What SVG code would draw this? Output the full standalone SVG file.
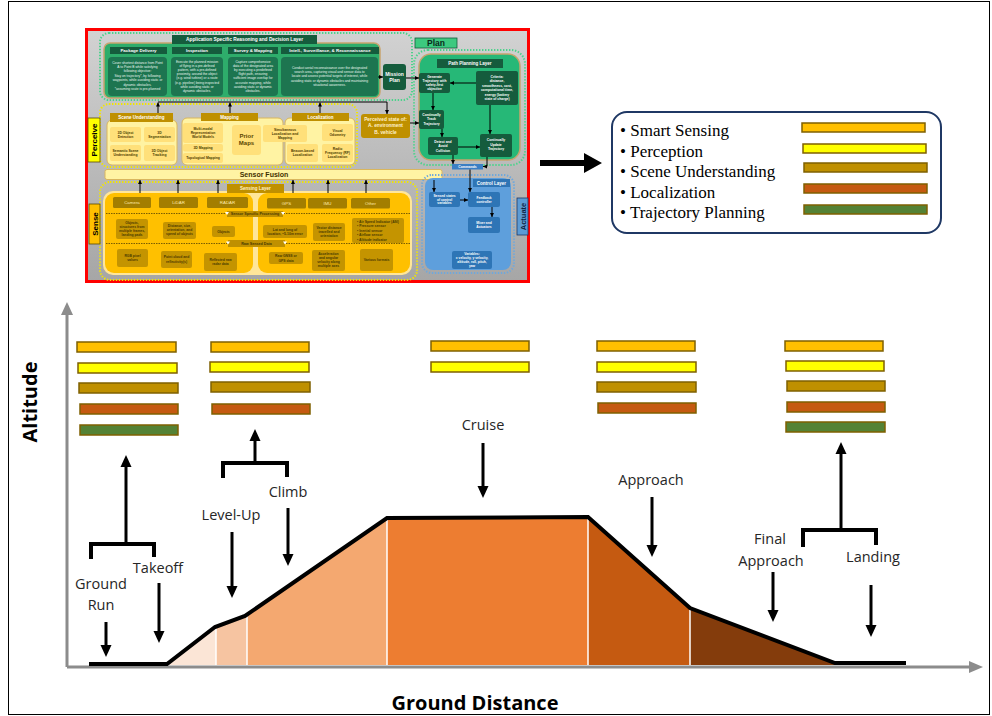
<svg xmlns="http://www.w3.org/2000/svg" width="992" height="716" viewBox="0 0 992 716">
<defs>
<linearGradient id="gbg" x1="0" y1="0" x2="0" y2="1"><stop offset="0" stop-color="#D2D2D2"/><stop offset="1" stop-color="#A6A6A6"/></linearGradient>
<marker id="sa" markerUnits="userSpaceOnUse" markerWidth="4" markerHeight="4" refX="4" refY="2" orient="auto"><path d="M0,0 L4,2 L0,4 z" fill="#000"/></marker>
<marker id="ba" markerUnits="userSpaceOnUse" markerWidth="12" markerHeight="12" refX="8" refY="6" orient="auto"><path d="M0,0.5 L12,6 L0,11.5 z" fill="#000"/></marker>
</defs>
<style>
.wb{fill:#fff;font-weight:bold;text-anchor:middle;font-family:"Liberation Sans",Arial,sans-serif}
.w{fill:#E8F5EE;text-anchor:middle;font-family:"Liberation Sans",Arial,sans-serif;font-size:3.3px}
.dk{fill:#4A3A00;text-anchor:middle;font-family:"Liberation Sans",Arial,sans-serif;font-size:3.4px;font-weight:bold}
.lt{fill:#FFEAA8;text-anchor:middle;font-family:"Liberation Sans",Arial,sans-serif;font-size:4.4px}
.gh{fill:#155C3D}
.gb{fill:#1D7550}
.yc{fill:#FFF3A3;stroke:#D9B65E;stroke-width:1}
.yi{fill:#FFE07A}
.yh{fill:#BF9000}
.sb{fill:#A37E00}
.sg{fill:#C49400}
.bb{fill:#2E75B6}
.dot{fill:none;stroke-width:2;stroke-dasharray:1.4 1.6}
.lab{font-family:"Open Sans","Liberation Sans",sans-serif;font-size:14.5px;fill:#262626;text-anchor:middle}
.ax{font-family:"Open Sans","Liberation Sans",sans-serif;font-size:20px;font-weight:bold;fill:#000;text-anchor:middle}
.bar{stroke:#7F6000;stroke-width:1.5}
.ss{fill:#FFC000}.pe{fill:#FFFF00}.su{fill:#BF9000}.lo{fill:#C55A11}.tp{fill:#548235}
.c{stroke:#000;stroke-width:1;fill:none}
.pa{stroke:#000;stroke-width:3;fill:none}
.br{stroke:#000;stroke-width:4;fill:none}
.lg{font-family:"Liberation Serif","Times New Roman",serif;font-size:17px;fill:#000}
.sep{stroke:#fff;stroke-width:1.5}
</style>
<rect x="0" y="0" width="992" height="716" fill="#fff"/>
<rect x="8.5" y="1.5" width="981" height="713" fill="none" stroke="#000" stroke-width="1"/>

<!-- architecture panel -->
<g id="architecture">
<rect x="86.5" y="29.5" width="442" height="252" fill="url(#gbg)" stroke="#FF0000" stroke-width="3"/>

<!-- application layer -->
<g id="app-layer">
<rect x="100" y="33" width="312" height="67" rx="9" class="dot" stroke="#4CD38C"/>
<rect x="104" y="43" width="276" height="55" rx="6" fill="#2EAD6B" stroke="#C8A46E" stroke-width="1.5"/>
<rect x="172" y="35" width="145" height="9" class="gh"/>
<text x="244.5" y="41.4" class="wb" font-size="4.8">Application Specific Reasoning and Decision Layer</text>
<rect x="110" y="47" width="57" height="7" class="gh"/><text x="138.5" y="52.2" class="wb" font-size="4.4">Package Delivery</text>
<rect x="172" y="47" width="50" height="7" class="gh"/><text x="197" y="52.2" class="wb" font-size="4.4">Inspection</text>
<rect x="228" y="47" width="50" height="7" class="gh"/><text x="253" y="52.2" class="wb" font-size="4.4">Survey &amp; Mapping</text>
<rect x="281" y="47" width="98" height="7" class="gh"/><text x="330" y="52.2" class="wb" font-size="4.4">Intell., Surveillance, &amp; Reconnaissance</text>
<rect x="108" y="57" width="59" height="39" rx="4" class="gb"/>
<text class="w"><tspan x="137.5" y="63.5">Cover shortest distance from Point</tspan><tspan x="137.5" y="67.9">A to Point B while satisfying</tspan><tspan x="137.5" y="72.3">following objective:</tspan><tspan x="137.5" y="76.7">Stay on trajectory*, by following</tspan><tspan x="137.5" y="81.1">waypoints, while avoiding static or</tspan><tspan x="137.5" y="85.5">dynamic obstacles.</tspan><tspan x="137.5" y="89.9">*assuming route is pre-planned</tspan></text>
<rect x="171" y="57" width="52" height="39" rx="4" class="gb"/>
<text class="w"><tspan x="197" y="62.5">Execute the planned mission</tspan><tspan x="197" y="66.7">of flying in a pre-defined</tspan><tspan x="197" y="70.9">pattern, with a pre-defined</tspan><tspan x="197" y="75.1">proximity, around the object</tspan><tspan x="197" y="79.3">(e.g. wind turbine) or a route</tspan><tspan x="197" y="83.5">(e.g. pipeline) being inspected</tspan><tspan x="197" y="87.7">while avoiding static or</tspan><tspan x="197" y="91.9">dynamic obstacles.</tspan></text>
<rect x="228" y="57" width="50" height="39" rx="4" class="gb"/>
<text class="w"><tspan x="253" y="62.5">Capture comprehensive</tspan><tspan x="253" y="66.7">data of the designated area</tspan><tspan x="253" y="70.9">by executing a predefined</tspan><tspan x="253" y="75.1">flight path, ensuring</tspan><tspan x="253" y="79.3">sufficient image overlap for</tspan><tspan x="253" y="83.5">accurate mapping, while</tspan><tspan x="253" y="87.7">avoiding static or dynamic</tspan><tspan x="253" y="91.9">obstacles.</tspan></text>
<rect x="281" y="57" width="97" height="39" rx="4" class="gb"/>
<text class="w"><tspan x="329.5" y="68.5">Conduct aerial reconnaissance over the designated</tspan><tspan x="329.5" y="72.9">search area, capturing visual and sensor data to</tspan><tspan x="329.5" y="77.3">locate and assess potential targets of interest, while</tspan><tspan x="329.5" y="81.7">avoiding static or dynamic obstacles and maintaining</tspan><tspan x="329.5" y="86.1">situational awareness.</tspan></text>
</g>

<g id="mission-plan">
<rect x="383" y="64" width="23" height="26" rx="3" class="gh"/>
<text class="wb" font-size="5"><tspan x="394.5" y="75.5">Mission</tspan><tspan x="394.5" y="82">Plan</tspan></text>
</g>

<!-- plan -->
<g id="plan">
<rect x="414" y="50" width="111" height="115" rx="14" class="dot" stroke="#4CD38C"/>
<rect x="419" y="54" width="101" height="106" rx="12" fill="#26B877" stroke="#C8A46E" stroke-width="1.5"/>
<rect x="415" y="38" width="42" height="10" fill="#3CC97F" stroke="#155C3D" stroke-width="0.8"/>
<text x="436" y="46.3" font-family="Liberation Sans,Arial,sans-serif" font-size="8.5" font-weight="bold" text-anchor="middle" fill="#0B2A1B">Plan</text>
<rect x="437" y="59" width="66" height="9" class="gh"/>
<text x="470" y="65.4" class="wb" font-size="4.5">Path Planning Layer</text>
<rect x="419" y="73" width="31" height="20" rx="2" class="gh"/>
<text class="wb" font-size="3.4"><tspan x="434.5" y="78">Generate</tspan><tspan x="434.5" y="82">Trajectory with</tspan><tspan x="434.5" y="86">safety-first</tspan><tspan x="434.5" y="90">objective</tspan></text>
<rect x="476" y="71" width="42" height="34" rx="2" class="gh"/>
<text class="wb" font-size="3.4"><tspan x="497" y="77.5">Criteria:</tspan><tspan x="497" y="82">distance,</tspan><tspan x="497" y="86.5">smoothness, cost,</tspan><tspan x="497" y="91">computational time,</tspan><tspan x="497" y="95.5">energy (battery</tspan><tspan x="497" y="100">state of charge)</tspan></text>
<rect x="419" y="110" width="25" height="19" rx="2" class="gh"/>
<text class="wb" font-size="3.4"><tspan x="431.5" y="115.5">Continually</tspan><tspan x="431.5" y="120">Track</tspan><tspan x="431.5" y="124.5">Trajectory</tspan></text>
<rect x="428" y="137" width="30" height="18" rx="2" class="gh"/>
<text class="wb" font-size="3.4"><tspan x="443" y="142.5">Detect and</tspan><tspan x="443" y="147">Avoid</tspan><tspan x="443" y="151.5">Collision</tspan></text>
<rect x="480" y="134" width="32" height="23" rx="2" class="gh"/>
<text class="wb" font-size="3.4"><tspan x="496" y="141">Continually</tspan><tspan x="496" y="145.5">Update</tspan><tspan x="496" y="150">Trajectory</tspan></text>
<rect x="452" y="164" width="31" height="5.5" fill="#3A7FC4"/>
<text x="467.5" y="168.1" class="wb" font-size="3.4">Commands</text>
</g>

<!-- perceive -->
<g id="perceive">
<rect x="100" y="104" width="257" height="63" rx="9" class="dot" stroke="#F2E600"/>
<rect x="88" y="118" width="12" height="44" fill="#FFFF00" stroke="#5A4A00" stroke-width="0.8"/>
<text transform="translate(96.8,140) rotate(-90)" font-family="Liberation Sans,Arial,sans-serif" font-size="8" font-weight="bold" text-anchor="middle" fill="#000">Perceive</text>
<rect x="107" y="120" width="70" height="45" rx="5" class="yc"/>
<rect x="110" y="113" width="63" height="9" class="yh"/>
<text x="141.5" y="119.4" class="wb" font-size="4.5">Scene Understanding</text>
<rect x="110" y="127" width="31" height="15" rx="2" class="yi"/><text class="dk"><tspan x="125.5" y="133.5">3D Object</tspan><tspan x="125.5" y="137.5">Detection</tspan></text>
<rect x="144" y="127" width="31" height="15" rx="2" class="yi"/><text class="dk"><tspan x="159.5" y="133.5">3D</tspan><tspan x="159.5" y="137.5">Segmentation</tspan></text>
<rect x="110" y="145" width="31" height="16" rx="2" class="yi"/><text class="dk"><tspan x="125.5" y="152">Semantic Scene</tspan><tspan x="125.5" y="156">Understanding</tspan></text>
<rect x="144" y="145" width="31" height="16" rx="2" class="yi"/><text class="dk"><tspan x="159.5" y="152">3D  Object</tspan><tspan x="159.5" y="156">Tracking</tspan></text>

<rect x="182" y="118" width="101" height="47" rx="5" class="yc"/>
<rect x="201" y="113" width="57" height="8" class="yh"/>
<text x="229.5" y="118.9" class="wb" font-size="4.5">Mapping</text>
<rect x="183" y="123" width="40" height="20" rx="2" class="yi"/><text class="dk"><tspan x="203" y="129.5">Multi-modal</tspan><tspan x="203" y="133.5">Representation</tspan><tspan x="203" y="137.5">World Models</tspan></text>
<rect x="183" y="144" width="40" height="7.5" rx="2" class="yi"/><text x="203" y="149" class="dk">3D Mapping</text>
<rect x="183" y="153" width="40" height="10" rx="2" class="yi"/><text x="203" y="159.3" class="dk">Topological Mapping</text>
<rect x="232" y="125" width="29" height="30" rx="3" class="yi"/>
<text font-family="Liberation Sans,Arial,sans-serif" font-size="6" font-weight="bold" text-anchor="middle" fill="#5A4500"><tspan x="246.5" y="138">Prior</tspan><tspan x="246.5" y="145">Maps</tspan></text>

<rect x="285" y="118" width="70" height="47" rx="5" class="yc"/>
<rect x="292" y="113" width="57" height="8" class="yh"/>
<text x="320.5" y="118.9" class="wb" font-size="4.5">Localization</text>
<rect x="263" y="125" width="44" height="17" rx="2" class="yi"/><text class="dk"><tspan x="285" y="130.5">Simultaneous</tspan><tspan x="285" y="134.5">Localization and</tspan><tspan x="285" y="138.5">Mapping</tspan></text>
<rect x="322" y="124" width="31" height="17" rx="2" class="yi"/><text class="dk"><tspan x="337.5" y="131.5">Visual</tspan><tspan x="337.5" y="135.5">Odometry</tspan></text>
<rect x="287" y="144" width="31" height="18" rx="2" class="yi"/><text class="dk"><tspan x="302.5" y="152">Beacon-based</tspan><tspan x="302.5" y="156">Localization</tspan></text>
<rect x="322" y="144" width="31" height="18" rx="2" class="yi"/><text class="dk"><tspan x="337.5" y="149.5">Radio</tspan><tspan x="337.5" y="153.5">Frequency (RF)</tspan><tspan x="337.5" y="157.5">Localization</tspan></text>

<rect x="361" y="114" width="49" height="24" rx="3" fill="#BF9000"/>
<text font-family="Liberation Sans,Arial,sans-serif" font-size="4.8" font-weight="bold" text-anchor="middle" fill="#FFF2CC"><tspan x="385.5" y="121">Perceived state of:</tspan><tspan x="385.5" y="127.3">A. environment</tspan><tspan x="385.5" y="133.6">B. vehicle</tspan></text>
</g>

<!-- sensor fusion -->
<g id="sensor-fusion">
<rect x="105" y="169.5" width="337" height="10" rx="2" fill="#FFF3A3" stroke="#D9B65E" stroke-width="1"/>
<text x="264" y="177.3" font-family="Liberation Sans,Arial,sans-serif" font-size="7" font-weight="bold" text-anchor="middle" fill="#3F3000">Sensor Fusion</text>
</g>

<!-- sense -->
<g id="sense">
<rect x="100" y="182" width="317" height="98" rx="10" class="dot" stroke="#F2E600"/>
<rect x="103" y="191" width="309" height="84" rx="10" fill="#FFE699"/>
<rect x="105" y="193" width="148" height="80" rx="9" fill="#FFC000"/>
<rect x="258" y="193" width="152" height="80" rx="9" fill="#FFC000"/>
<rect x="89" y="204" width="11" height="40" fill="#FFC000" stroke="#5A4A00" stroke-width="0.8"/>
<text transform="translate(97.6,224) rotate(-90)" font-family="Liberation Sans,Arial,sans-serif" font-size="8" font-weight="bold" text-anchor="middle" fill="#000">Sense</text>
<rect x="227" y="184" width="57" height="9" class="yh"/>
<text x="255.5" y="190.3" class="wb" font-size="4.5" style="fill:#FFF2CC">Sensing Layer</text>
<rect x="113" y="197" width="38" height="11" rx="1.5" class="sb"/><text x="132" y="204" class="lt">Camera</text>
<rect x="159" y="197" width="39" height="11" rx="1.5" class="sb"/><text x="178.5" y="204" class="lt">LiDAR</text>
<rect x="207" y="197" width="41" height="11" rx="1.5" class="sb"/><text x="227.5" y="204" class="lt">RADAR</text>
<rect x="267" y="198" width="39" height="10.5" rx="1.5" class="sb"/><text x="286.5" y="204.7" class="lt">GPS</text>
<rect x="308" y="198" width="39" height="10.5" rx="1.5" class="sb"/><text x="327.5" y="204.7" class="lt">IMU</text>
<rect x="351" y="198" width="39" height="10.5" rx="1.5" class="sb"/><text x="370.5" y="204.7" class="lt">Other</text>

<line x1="106" y1="213.5" x2="410" y2="213.5" stroke="#3F3000" stroke-width="0.7" stroke-dasharray="1.5 1"/>
<rect x="227" y="211" width="56" height="6" class="yh"/>
<text x="255" y="215.4" class="dk" style="font-size:3.7px">Sensor Specific Processing</text>
<path d="M225,212 L229,212 L227,215 z M281,212 L285,212 L283,215 z" fill="#fff"/>
<rect x="116" y="219" width="32" height="20" rx="2" class="sg"/><text class="dk"><tspan x="132" y="224">Objects,</tspan><tspan x="132" y="228">structures from</tspan><tspan x="132" y="232">multiple frames,</tspan><tspan x="132" y="236">landing pads</tspan></text>
<rect x="163" y="222" width="33" height="17" rx="2" class="sg"/><text class="dk"><tspan x="179.5" y="227">Distance, size,</tspan><tspan x="179.5" y="231">orientation, and</tspan><tspan x="179.5" y="235">speed of objects</tspan></text>
<rect x="212" y="226" width="23" height="11" rx="2" class="sg"/><text x="223.5" y="232.7" class="dk">Objects</text>
<rect x="263" y="225" width="44" height="13" rx="2" class="sg"/><text class="dk"><tspan x="285" y="230.5">Lat and long of</tspan><tspan x="285" y="234.8">location, ~5-10m error</tspan></text>
<rect x="313" y="223" width="32" height="18" rx="2" class="sg"/><text class="dk"><tspan x="329" y="228.5">Vector distance</tspan><tspan x="329" y="232.8">travelled and</tspan><tspan x="329" y="237.1">orientation</tspan></text>
<rect x="352" y="218" width="52" height="25" rx="2" class="sg"/>
<text font-family="Liberation Sans,Arial,sans-serif" font-size="3.4" font-weight="bold" fill="#4A3A00"><tspan x="357" y="223">•  Air Speed Indicator (ASI)</tspan><tspan x="357" y="227.4">•  Pressure sensor</tspan><tspan x="357" y="231.8">•  Inertial sensor</tspan><tspan x="357" y="236.2">•  Airflow sensor</tspan><tspan x="357" y="240.6">•  Altitude indicator</tspan></text>

<line x1="106" y1="243.5" x2="410" y2="243.5" stroke="#3F3000" stroke-width="0.7" stroke-dasharray="1.5 1"/>
<rect x="228" y="240" width="57" height="7" class="yh"/>
<text x="256.5" y="244.9" class="dk" style="font-size:3.7px">Raw Sensed Data</text>
<path d="M226,241.5 L230,241.5 L228,244.5 z M283,241.5 L287,241.5 L285,244.5 z" fill="#fff"/>
<rect x="117" y="249" width="31" height="18" rx="2" class="sg"/><text class="dk"><tspan x="132.5" y="257">RGB pixel</tspan><tspan x="132.5" y="261.3">values</tspan></text>
<rect x="161" y="251" width="31" height="17" rx="2" class="sg"/><text class="dk"><tspan x="176.5" y="258.3">Point cloud and</tspan><tspan x="176.5" y="262.6">reflectivity(s)</tspan></text>
<rect x="204" y="253" width="33" height="18" rx="2" class="sg"/><text class="dk"><tspan x="220.5" y="260.8">Reflected raw</tspan><tspan x="220.5" y="265.1">radar data</tspan></text>
<rect x="269" y="252" width="34" height="12" rx="2" class="sg"/><text class="dk"><tspan x="286" y="257.2">Raw GNSS or</tspan><tspan x="286" y="261.5">GPS data</tspan></text>
<rect x="312" y="250" width="33" height="21" rx="2" class="sg"/><text class="dk"><tspan x="328.5" y="255.3">Acceleration</tspan><tspan x="328.5" y="259.3">and angular</tspan><tspan x="328.5" y="263.3">velocity along</tspan><tspan x="328.5" y="267.3">multiple axes</tspan></text>
<rect x="360" y="249" width="33" height="22" rx="2" class="sg"/><text x="376.5" y="261.2" class="dk">Various formats</text>
</g>

<!-- actuate -->
<g id="actuate">
<rect x="422" y="175" width="92" height="98" rx="10" class="dot" stroke="#6FA8DC"/>
<rect x="425" y="178" width="86" height="92" rx="8" fill="#5E9FDC"/>
<rect x="473" y="179" width="37" height="8" fill="#2F75B5"/>
<text x="491.5" y="184.6" class="wb" font-size="4.5">Control Layer</text>
<rect x="429" y="192" width="31" height="15" rx="2" class="bb"/><text class="wb" font-size="3.3"><tspan x="444.5" y="196.8">Sensed states</tspan><tspan x="444.5" y="200.6">of control</tspan><tspan x="444.5" y="204.4">variables</tspan></text>
<rect x="468" y="192" width="32" height="15" rx="2" class="bb"/><text class="wb" font-size="3.3"><tspan x="484" y="198.7">Feedback</tspan><tspan x="484" y="202.5">controller</tspan></text>
<rect x="468" y="217" width="32" height="16" rx="2" class="bb"/><text class="wb" font-size="3.3"><tspan x="484" y="224">Mixer and</tspan><tspan x="484" y="227.8">Actuators</tspan></text>
<rect x="452" y="251" width="40" height="18" rx="2" class="bb"/><text class="wb" font-size="3.3"><tspan x="472" y="255.3">Variables:</tspan><tspan x="472" y="259.1">x velocity, y velocity,</tspan><tspan x="472" y="262.9">altitude, roll, pitch,</tspan><tspan x="472" y="266.7">yaw</tspan></text>
<rect x="517" y="198" width="11" height="37" fill="#5B9BD5" stroke="#1F3864" stroke-width="0.8"/>
<text transform="translate(525.5,216.5) rotate(-90)" font-family="Liberation Sans,Arial,sans-serif" font-size="7.5" font-weight="bold" text-anchor="middle" fill="#0D2340">Actuate</text>
</g>

<!-- connectors of the architecture -->
<g id="arch-connectors">
<line x1="378" y1="77" x2="383" y2="77" class="c" marker-end="url(#sa)"/>
<line x1="406" y1="78" x2="419" y2="78" class="c" marker-end="url(#sa)"/>
<line x1="476" y1="83" x2="450" y2="83" class="c" marker-end="url(#sa)"/>
<line x1="433" y1="93" x2="433" y2="110" class="c" marker-end="url(#sa)"/>
<line x1="442" y1="129" x2="442" y2="137" class="c" marker-end="url(#sa)"/>
<line x1="490" y1="105" x2="490" y2="134" class="c" marker-end="url(#sa)"/>
<line x1="458" y1="147" x2="480" y2="147" class="c" marker-end="url(#sa)"/>
<line x1="410" y1="123" x2="419" y2="123" class="c" marker-end="url(#sa)"/>
<line x1="453" y1="155" x2="453" y2="164" class="c" marker-end="url(#sa)"/>
<polyline points="487,157 487,166.5 483,166.5" class="c" marker-end="url(#sa)"/>
<line x1="470" y1="169.5" x2="470" y2="192" class="c" marker-end="url(#sa)"/>
<line x1="434" y1="180" x2="434" y2="192" class="c" marker-end="url(#sa)"/>
<line x1="460" y1="200" x2="468" y2="200" class="c" marker-end="url(#sa)"/>
<line x1="492" y1="207" x2="492" y2="217" class="c" marker-end="url(#sa)"/>
<polyline points="158,102 387,102" class="c"/>
<line x1="158" y1="113" x2="158" y2="102.5" class="c" marker-end="url(#sa)"/>
<line x1="230" y1="113" x2="230" y2="102.5" class="c" marker-end="url(#sa)"/>
<line x1="320" y1="113" x2="320" y2="102.5" class="c" marker-end="url(#sa)"/>
<line x1="387" y1="102" x2="387" y2="114" class="c" marker-end="url(#sa)"/>
<line x1="140" y1="193" x2="140" y2="180" class="c" marker-end="url(#sa)"/>
<line x1="178" y1="193" x2="178" y2="180" class="c" marker-end="url(#sa)"/>
<line x1="218" y1="193" x2="218" y2="180" class="c" marker-end="url(#sa)"/>
<line x1="293" y1="193" x2="293" y2="180" class="c" marker-end="url(#sa)"/>
<line x1="328" y1="193" x2="328" y2="180" class="c" marker-end="url(#sa)"/>
<line x1="366" y1="193" x2="366" y2="180" class="c" marker-end="url(#sa)"/>
</g>
</g>

<!-- big arrow to legend -->
<polygon id="legend-arrow" points="540,160 584,160 584,153 602,163 584,173 584,166 540,166" fill="#000"/>

<!-- legend -->
<g id="legend">
<rect x="612" y="112" width="329" height="121" rx="15" fill="#fff" stroke="#1F3864" stroke-width="2"/>
<text class="lg"><tspan x="620" y="136">•  Smart Sensing</tspan><tspan x="620" y="156.5">•  Perception</tspan><tspan x="620" y="177">•  Scene Understanding</tspan><tspan x="620" y="197.5">•  Localization</tspan><tspan x="620" y="218">•  Trajectory Planning</tspan></text>
<rect x="802" y="123" width="123" height="9" class="bar ss"/>
<rect x="803" y="144" width="123" height="9" class="bar pe"/>
<rect x="804" y="163" width="123" height="9" class="bar su"/>
<rect x="804" y="184" width="123" height="9" class="bar lo"/>
<rect x="804" y="205" width="123" height="9" class="bar tp"/>
</g>

<!-- profile chart -->
<g id="profile">
<polygon points="167,664 216,626.3 216,665 167,665" fill="#FBE5D6"/>
<polygon points="216,626.3 245,616 247,614.6 247,665 216,665" fill="#F6C4A1"/>
<polygon points="247,614.6 387,518 387,665 247,665" fill="#F4A870"/>
<polygon points="387,518 588,517 588,665 387,665" fill="#ED7D31"/>
<polygon points="588,517 690,608 690,665 588,665" fill="#C55A11"/>
<polygon points="690,608 835,663 835,665 690,665" fill="#843C0C"/>
<line x1="216" y1="627" x2="216" y2="665" class="sep"/>
<line x1="247" y1="615" x2="247" y2="665" class="sep"/>
<line x1="387" y1="519" x2="387" y2="665" class="sep"/>
<line x1="588" y1="518" x2="588" y2="665" class="sep"/>
<line x1="690" y1="609" x2="690" y2="665" class="sep"/>
</g>
<g id="axes">
<line x1="67" y1="667" x2="971" y2="667" stroke="#8C8C8C" stroke-width="3"/>
<line x1="67" y1="667" x2="67" y2="313" stroke="#8C8C8C" stroke-width="3"/>
<polygon points="67,302 61,315 73,315" fill="#8C8C8C"/>
<polygon points="983,667 969,661 969,673" fill="#8C8C8C"/>
<text class="ax" x="475" y="710">Ground Distance</text>
<text class="ax" transform="translate(37,402) rotate(-90)">Altitude</text>
</g>
<polyline id="flight-path" points="89,664 167,664 215,627 245,616 387,518 588,517 690,608 835,663 906,663" fill="none" stroke="#000" stroke-width="4" stroke-linejoin="miter"/>

<!-- bar groups -->
<g id="bars-takeoff">
<rect x="77" y="342" width="99" height="10" class="bar ss"/>
<rect x="78" y="363" width="99" height="10" class="bar pe"/>
<rect x="79" y="383" width="99" height="10" class="bar su"/>
<rect x="80" y="404" width="98" height="10" class="bar lo"/>
<rect x="80" y="425" width="98" height="10" class="bar tp"/>
</g>
<g id="bars-climb">
<rect x="211" y="342" width="98" height="10" class="bar ss"/>
<rect x="210" y="362" width="99" height="10" class="bar pe"/>
<rect x="211" y="382" width="99" height="10" class="bar su"/>
<rect x="212" y="404" width="98" height="10" class="bar lo"/>
</g>
<g id="bars-cruise">
<rect x="431" y="341" width="98" height="10" class="bar ss"/>
<rect x="431" y="362" width="98" height="10" class="bar pe"/>
</g>
<g id="bars-approach">
<rect x="597" y="341" width="98" height="10" class="bar ss"/>
<rect x="597" y="362" width="99" height="10" class="bar pe"/>
<rect x="597" y="382" width="99" height="10" class="bar su"/>
<rect x="598" y="403" width="98" height="10" class="bar lo"/>
</g>
<g id="bars-landing">
<rect x="785" y="341" width="98" height="10" class="bar ss"/>
<rect x="786" y="361" width="98" height="10" class="bar pe"/>
<rect x="787" y="381" width="98" height="10" class="bar su"/>
<rect x="787" y="402" width="98" height="10" class="bar lo"/>
<rect x="786" y="422" width="99" height="10" class="bar tp"/>
</g>

<!-- phase labels -->
<g id="phase-labels">
<text class="lab"><tspan x="101" y="589">Ground</tspan><tspan x="101" y="610">Run</tspan></text>
<text class="lab" x="158" y="573">Takeoff</text>
<text class="lab" x="231" y="520">Level-Up</text>
<text class="lab" x="288" y="497">Climb</text>
<text class="lab" x="483" y="430">Cruise</text>
<text class="lab" x="651" y="485">Approach</text>
<text class="lab"><tspan x="770" y="544">Final</tspan><tspan x="771" y="566">Approach</tspan></text>
<text class="lab" x="873" y="562">Landing</text>
</g>

<!-- phase connectors -->
<g id="phase-connectors">
<line x1="106" y1="622" x2="106" y2="653" class="pa" marker-end="url(#ba)"/>
<line x1="159" y1="583" x2="159" y2="639" class="pa" marker-end="url(#ba)"/>
<line x1="232" y1="532" x2="232" y2="594" class="pa" marker-end="url(#ba)"/>
<line x1="288" y1="508" x2="288" y2="562" class="pa" marker-end="url(#ba)"/>
<line x1="483" y1="443" x2="483" y2="494" class="pa" marker-end="url(#ba)"/>
<line x1="652" y1="497" x2="652" y2="553" class="pa" marker-end="url(#ba)"/>
<line x1="773" y1="572" x2="773" y2="618" class="pa" marker-end="url(#ba)"/>
<line x1="871" y1="585" x2="871" y2="633" class="pa" marker-end="url(#ba)"/>
<polyline points="91,559 91,544 154,544 154,557" class="br"/>
<line x1="126" y1="544" x2="126" y2="459" class="pa" marker-end="url(#ba)"/>
<polyline points="223,478 223,463 287,463 287,477" class="br"/>
<line x1="255" y1="463" x2="255" y2="433" class="pa" marker-end="url(#ba)"/>
<polyline points="803,547 803,530 876,530 876,545" class="br"/>
<line x1="841" y1="530" x2="841" y2="446" class="pa" marker-end="url(#ba)"/>
</g>
</svg>
